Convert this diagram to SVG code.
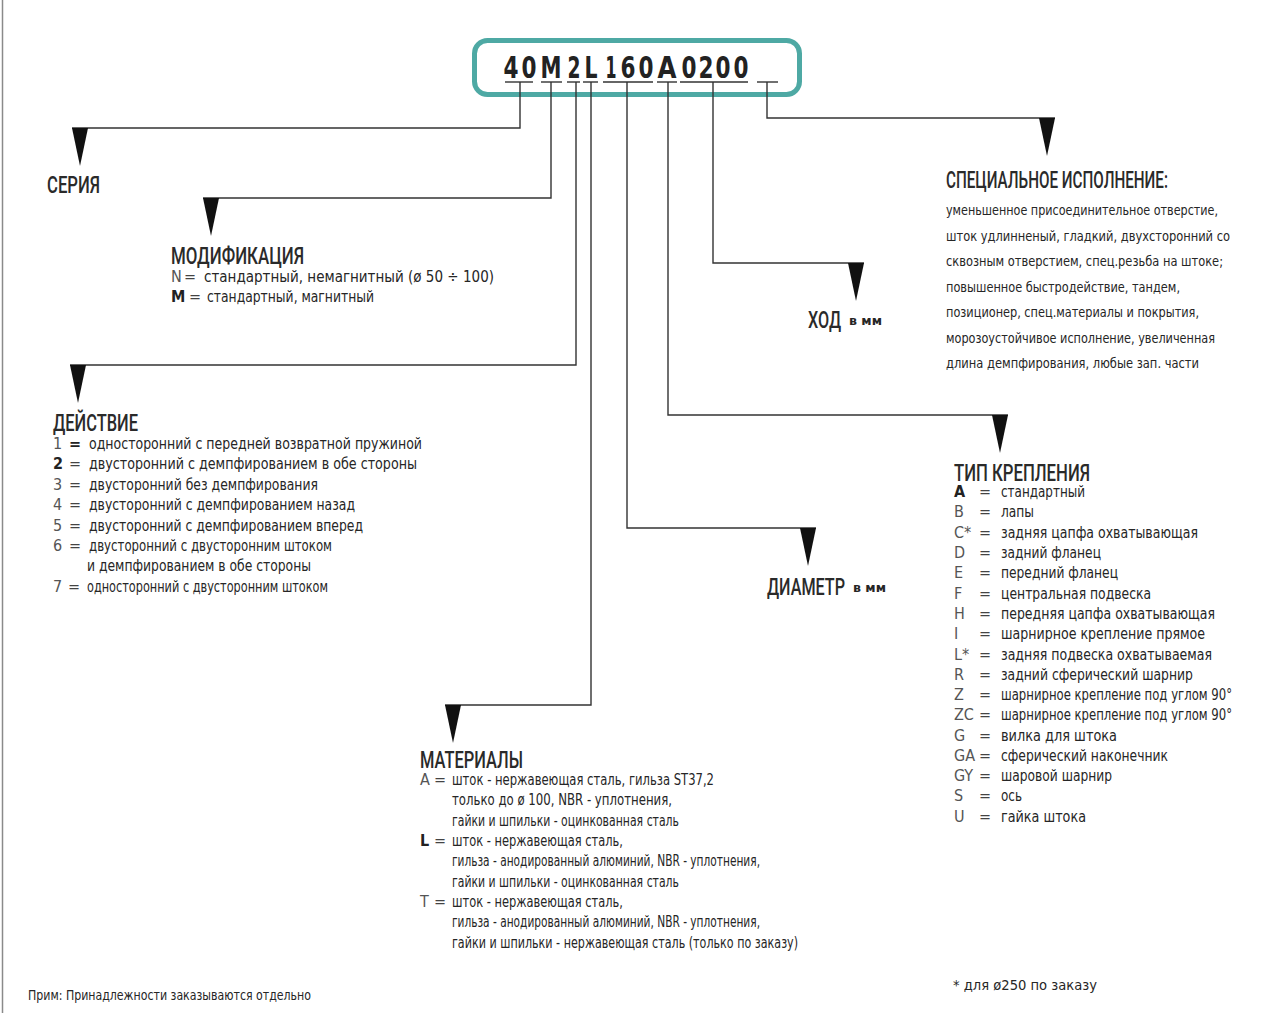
<svg xmlns="http://www.w3.org/2000/svg" xmlns:xlink="http://www.w3.org/1999/xlink" width="1266" height="1013" viewBox="0 0 1266 1013">
<style>
text{font-family:"DejaVu Sans Condensed","DejaVu Sans",sans-serif;fill:#262626}
.h{font-family:Roboto,"DejaVu Sans Condensed",sans-serif;font-size:24px;font-weight:500;fill:#2a2a2a}
.b{font-size:15px}
.s{font-size:14px}
.k{font-size:16px;fill:#555}
.kb{font-size:16px;font-weight:bold;fill:#222}
.eq{font-size:16px;fill:#444}
.u{font-size:12px;font-weight:bold}
.code{font-size:30px;font-weight:bold;fill:#222;text-anchor:middle}
.ln{fill:none;stroke:#333;stroke-width:1.4}
.ul{stroke:#333;stroke-width:1.4}
.arrow{fill:#111}
</style>
<defs>
<path id="tri" d="M-8,0 L8,0 L0,38 Z"/>
</defs>
<rect width="1266" height="1013" fill="#fff"/>
<line x1="2.5" y1="0" x2="2.5" y2="1013" stroke="#8a8a8a" stroke-width="1.5"/>

<g id="code">
<rect x="474.5" y="40.5" width="325" height="54" rx="13" fill="#fff" stroke="#4ea9a4" stroke-width="5"/>
<text class="code" x="511" y="78" textLength="15" lengthAdjust="spacingAndGlyphs">4</text>
<text class="code" x="529" y="78" textLength="15" lengthAdjust="spacingAndGlyphs">0</text>
<text class="code" x="551" y="78" textLength="21" lengthAdjust="spacingAndGlyphs">M</text>
<text class="code" x="574" y="78" textLength="13" lengthAdjust="spacingAndGlyphs">2</text>
<text class="code" x="591" y="78" textLength="13" lengthAdjust="spacingAndGlyphs">L</text>
<text class="code" x="611" y="78" textLength="11" lengthAdjust="spacingAndGlyphs">1</text>
<text class="code" x="628" y="78" textLength="15" lengthAdjust="spacingAndGlyphs">6</text>
<text class="code" x="646" y="78" textLength="15" lengthAdjust="spacingAndGlyphs">0</text>
<text class="code" x="667" y="78" textLength="19" lengthAdjust="spacingAndGlyphs">A</text>
<text class="code" x="689" y="78" textLength="15" lengthAdjust="spacingAndGlyphs">0</text>
<text class="code" x="706" y="78" textLength="15" lengthAdjust="spacingAndGlyphs">2</text>
<text class="code" x="723" y="78" textLength="15" lengthAdjust="spacingAndGlyphs">0</text>
<text class="code" x="741" y="78" textLength="15" lengthAdjust="spacingAndGlyphs">0</text>
<line class="ul" x1="505" y1="82" x2="533" y2="82"/>
<line class="ul" x1="541" y1="82" x2="562" y2="82"/>
<line class="ul" x1="567" y1="82" x2="580" y2="82"/>
<line class="ul" x1="583" y1="82" x2="598" y2="82"/>
<line class="ul" x1="603" y1="82" x2="653" y2="82"/>
<line class="ul" x1="657" y1="82" x2="677" y2="82"/>
<line class="ul" x1="680" y1="82" x2="748" y2="82"/>
<line class="ul" x1="757" y1="82" x2="778" y2="82"/>
</g>

<g id="connectors">
<polyline class="ln" points="520,82 520,128 72,128"/>
<polyline class="ln" points="551,82 551,198 203,198"/>
<polyline class="ln" points="576,82 576,365 70,365"/>
<polyline class="ln" points="591,82 591,705 445,705"/>
<polyline class="ln" points="627,82 627,528 816,528"/>
<polyline class="ln" points="668,82 668,415 1008,415"/>
<polyline class="ln" points="713,82 713,263 864,263"/>
<polyline class="ln" points="767,82 767,118 1055,118"/>
<use class="arrow" xlink:href="#tri" x="80" y="128"/>
<use class="arrow" xlink:href="#tri" x="211" y="198"/>
<use class="arrow" xlink:href="#tri" x="78" y="365"/>
<use class="arrow" xlink:href="#tri" x="453" y="705"/>
<use class="arrow" xlink:href="#tri" x="808" y="528"/>
<use class="arrow" xlink:href="#tri" x="1000" y="415"/>
<use class="arrow" xlink:href="#tri" x="856" y="263"/>
<use class="arrow" xlink:href="#tri" x="1047" y="118"/>
</g>

<g id="series">
<text class="h" x="47" y="193" textLength="53" lengthAdjust="spacingAndGlyphs">СЕРИЯ</text>
</g>

<g id="modification">
<text class="h" x="171" y="264" textLength="133" lengthAdjust="spacingAndGlyphs">МОДИФИКАЦИЯ</text>
<text class="k" x="171" y="282">N</text>
<text class="eq" x="184" y="282">=</text>
<text class="b" x="204" y="282" textLength="290" lengthAdjust="spacingAndGlyphs">стандартный, немагнитный (ø 50 ÷ 100)</text>
<text class="kb" x="171" y="302">M</text>
<text class="eq" x="189" y="302">=</text>
<text class="b" x="207" y="302" textLength="167" lengthAdjust="spacingAndGlyphs">стандартный, магнитный</text>
</g>

<g id="action">
<text class="h" x="53" y="431" textLength="85" lengthAdjust="spacingAndGlyphs">ДЕЙСТВИЕ</text>
<text class="k" x="53" y="449">1</text><text class="kb" x="69" y="449">=</text>
<text class="b" x="89" y="449" textLength="333" lengthAdjust="spacingAndGlyphs">односторонний с передней возвратной пружиной</text>
<text class="kb" x="53" y="469">2</text><text class="eq" x="69" y="469">=</text>
<text class="b" x="89" y="469" textLength="328" lengthAdjust="spacingAndGlyphs">двусторонний с демпфированием в обе стороны</text>
<text class="k" x="53" y="490">3</text><text class="eq" x="69" y="490">=</text>
<text class="b" x="89" y="490" textLength="229" lengthAdjust="spacingAndGlyphs">двусторонний без демпфирования</text>
<text class="k" x="53" y="510">4</text><text class="eq" x="69" y="510">=</text>
<text class="b" x="89" y="510" textLength="266" lengthAdjust="spacingAndGlyphs">двусторонний с демпфированием назад</text>
<text class="k" x="53" y="531">5</text><text class="eq" x="69" y="531">=</text>
<text class="b" x="89" y="531" textLength="274" lengthAdjust="spacingAndGlyphs">двусторонний с демпфированием вперед</text>
<text class="k" x="53" y="551">6</text><text class="eq" x="69" y="551">=</text>
<text class="b" x="89" y="551" textLength="243" lengthAdjust="spacingAndGlyphs">двусторонний с двусторонним штоком</text>
<text class="b" x="87" y="571" textLength="224" lengthAdjust="spacingAndGlyphs">и демпфированием в обе стороны</text>
<text class="k" x="53" y="592">7</text><text class="eq" x="68" y="592">=</text>
<text class="b" x="87" y="592" textLength="241" lengthAdjust="spacingAndGlyphs">односторонний с двусторонним штоком</text>
</g>

<g id="special">
<text class="h" x="946" y="188" textLength="222" lengthAdjust="spacingAndGlyphs">СПЕЦИАЛЬНОЕ ИСПОЛНЕНИЕ:</text>
<text class="s" x="946" y="215" textLength="272" lengthAdjust="spacingAndGlyphs">уменьшенное присоединительное отверстие,</text>
<text class="s" x="946" y="241" textLength="284" lengthAdjust="spacingAndGlyphs">шток удлинненый, гладкий, двухсторонний со</text>
<text class="s" x="946" y="266" textLength="277" lengthAdjust="spacingAndGlyphs">сквозным отверстием, спец.резьба на штоке;</text>
<text class="s" x="946" y="292" textLength="234" lengthAdjust="spacingAndGlyphs">повышенное быстродействие, тандем,</text>
<text class="s" x="946" y="317" textLength="253" lengthAdjust="spacingAndGlyphs">позиционер, спец.материалы и покрытия,</text>
<text class="s" x="946" y="343" textLength="269" lengthAdjust="spacingAndGlyphs">морозоустойчивое исполнение, увеличенная</text>
<text class="s" x="946" y="368" textLength="253" lengthAdjust="spacingAndGlyphs">длина демпфирования, любые зап. части</text>
</g>

<g id="stroke">
<text class="h" x="808" y="328" textLength="33" lengthAdjust="spacingAndGlyphs">ХОД</text>
<text class="u" x="849" y="325" textLength="33" lengthAdjust="spacingAndGlyphs">в мм</text>
</g>

<g id="diameter">
<text class="h" x="767" y="595" textLength="78" lengthAdjust="spacingAndGlyphs">ДИАМЕТР</text>
<text class="u" x="853" y="592" textLength="33" lengthAdjust="spacingAndGlyphs">в мм</text>
</g>

<g id="mounting">
<text class="h" x="954" y="481" textLength="136" lengthAdjust="spacingAndGlyphs">ТИП КРЕПЛЕНИЯ</text>
<text class="kb" x="954" y="497">A</text><text class="eq" x="979" y="497">=</text>
<text class="b" x="1001" y="497" textLength="84" lengthAdjust="spacingAndGlyphs">стандартный</text>
<text class="k" x="954" y="517">B</text><text class="eq" x="979" y="517">=</text>
<text class="b" x="1001" y="517" textLength="33" lengthAdjust="spacingAndGlyphs">лапы</text>
<text class="k" x="954" y="538">C*</text><text class="eq" x="979" y="538">=</text>
<text class="b" x="1001" y="538" textLength="197" lengthAdjust="spacingAndGlyphs">задняя цапфа охватывающая</text>
<text class="k" x="954" y="558">D</text><text class="eq" x="979" y="558">=</text>
<text class="b" x="1001" y="558" textLength="100" lengthAdjust="spacingAndGlyphs">задний фланец</text>
<text class="k" x="954" y="578">E</text><text class="eq" x="979" y="578">=</text>
<text class="b" x="1001" y="578" textLength="117" lengthAdjust="spacingAndGlyphs">передний фланец</text>
<text class="k" x="954" y="599">F</text><text class="eq" x="979" y="599">=</text>
<text class="b" x="1001" y="599" textLength="150" lengthAdjust="spacingAndGlyphs">центральная подвеска</text>
<text class="k" x="954" y="619">H</text><text class="eq" x="979" y="619">=</text>
<text class="b" x="1001" y="619" textLength="214" lengthAdjust="spacingAndGlyphs">передняя цапфа охватывающая</text>
<text class="k" x="954" y="639">I</text><text class="eq" x="979" y="639">=</text>
<text class="b" x="1001" y="639" textLength="204" lengthAdjust="spacingAndGlyphs">шарнирное крепление прямое</text>
<text class="k" x="954" y="660">L*</text><text class="eq" x="979" y="660">=</text>
<text class="b" x="1001" y="660" textLength="211" lengthAdjust="spacingAndGlyphs">задняя подвеска охватываемая</text>
<text class="k" x="954" y="680">R</text><text class="eq" x="979" y="680">=</text>
<text class="b" x="1001" y="680" textLength="192" lengthAdjust="spacingAndGlyphs">задний сферический шарнир</text>
<text class="k" x="954" y="700">Z</text><text class="eq" x="979" y="700">=</text>
<text class="b" x="1001" y="700" textLength="231" lengthAdjust="spacingAndGlyphs">шарнирное крепление под углом 90°</text>
<text class="k" x="954" y="720">ZC</text><text class="eq" x="979" y="720">=</text>
<text class="b" x="1001" y="720" textLength="231" lengthAdjust="spacingAndGlyphs">шарнирное крепление под углом 90°</text>
<text class="k" x="954" y="741">G</text><text class="eq" x="979" y="741">=</text>
<text class="b" x="1001" y="741" textLength="116" lengthAdjust="spacingAndGlyphs">вилка для штока</text>
<text class="k" x="954" y="761">GA</text><text class="eq" x="979" y="761">=</text>
<text class="b" x="1001" y="761" textLength="167" lengthAdjust="spacingAndGlyphs">сферический наконечник</text>
<text class="k" x="954" y="781">GY</text><text class="eq" x="979" y="781">=</text>
<text class="b" x="1001" y="781" textLength="111" lengthAdjust="spacingAndGlyphs">шаровой шарнир</text>
<text class="k" x="954" y="801">S</text><text class="eq" x="979" y="801">=</text>
<text class="b" x="1001" y="801" textLength="21" lengthAdjust="spacingAndGlyphs">ось</text>
<text class="k" x="954" y="822">U</text><text class="eq" x="979" y="822">=</text>
<text class="b" x="1001" y="822" textLength="85" lengthAdjust="spacingAndGlyphs">гайка штока</text>
</g>

<g id="materials">
<text class="h" x="420" y="768" textLength="103" lengthAdjust="spacingAndGlyphs">МАТЕРИАЛЫ</text>
<text class="k" x="420" y="785">A</text><text class="eq" x="434" y="785">=</text>
<text class="b" x="452" y="785" textLength="262" lengthAdjust="spacingAndGlyphs">шток - нержавеющая сталь, гильза ST37,2</text>
<text class="b" x="452" y="805" textLength="220" lengthAdjust="spacingAndGlyphs">только до ø 100, NBR - уплотнения,</text>
<text class="b" x="452" y="826" textLength="227" lengthAdjust="spacingAndGlyphs">гайки и шпильки - оцинкованная сталь</text>
<text class="kb" x="420" y="846">L</text><text class="eq" x="434" y="846">=</text>
<text class="b" x="452" y="846" textLength="171" lengthAdjust="spacingAndGlyphs">шток - нержавеющая сталь,</text>
<text class="b" x="452" y="866" textLength="308" lengthAdjust="spacingAndGlyphs">гильза - анодированный алюминий, NBR - уплотнения,</text>
<text class="b" x="452" y="887" textLength="227" lengthAdjust="spacingAndGlyphs">гайки и шпильки - оцинкованная сталь</text>
<text class="k" x="420" y="907">T</text><text class="eq" x="434" y="907">=</text>
<text class="b" x="452" y="907" textLength="171" lengthAdjust="spacingAndGlyphs">шток - нержавеющая сталь,</text>
<text class="b" x="452" y="927" textLength="308" lengthAdjust="spacingAndGlyphs">гильза - анодированный алюминий, NBR - уплотнения,</text>
<text class="b" x="452" y="948" textLength="346" lengthAdjust="spacingAndGlyphs">гайки и шпильки - нержавеющая сталь (только по заказу)</text>
</g>

<g id="notes">
<text class="s" x="28" y="1000" font-size="13" textLength="283" lengthAdjust="spacingAndGlyphs">Прим: Принадлежности заказываются отдельно</text>
<text class="s" x="953" y="990" textLength="144" lengthAdjust="spacingAndGlyphs">* для ø250 по заказу</text>
</g>
</svg>
